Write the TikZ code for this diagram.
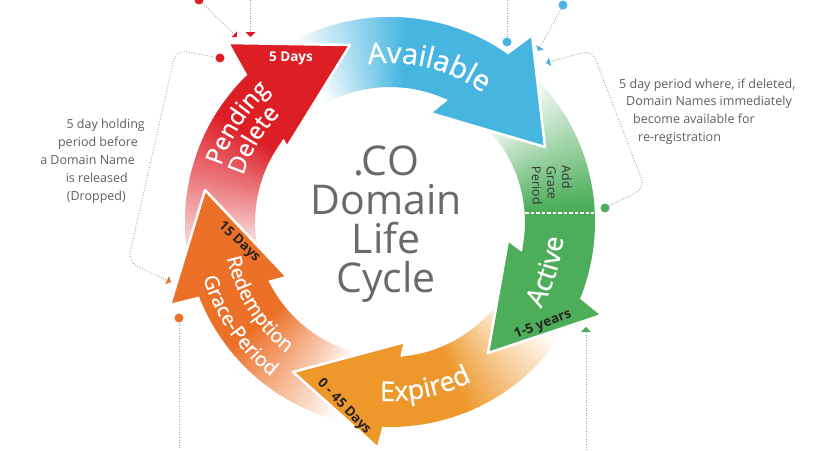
\documentclass[tikz,border=0pt]{standalone}
\usepackage{fontspec}
\setmainfont{Open Sans}
\newfontfamily\labfont[FakeBold=0.7]{Open Sans}
\usetikzlibrary{calc,decorations.text,arrows.meta}
\definecolor{cRed}{RGB}{221,30,37}
\definecolor{cBlue}{RGB}{70,182,225}
\definecolor{cGreen}{RGB}{76,174,90}
\definecolor{cExp}{RGB}{238,152,44}
\definecolor{cRdm}{RGB}{236,112,40}
\definecolor{cTitle}{RGB}{106,106,108}
\definecolor{cSide}{RGB}{95,95,95}
\definecolor{cDark}{RGB}{40,36,30}
\definecolor{cDot}{RGB}{165,165,165}
\newcommand\ringfade[3]{%
  \foreach \k in {1,...,40}{%
    \pgfmathsetmacro\rfA{#2+(#3-#2)*(\k-1)/40}%
    \pgfmathsetmacro\rfB{#2+(#3-#2)*(\k+0.5)/40}%
    \pgfmathtruncatemacro\rfP{round(100*(\k-0.5)/40)}%
    \fill[#1!\rfP!white] ($(C)+(\rfA:135pt)$) arc[start angle=\rfA, end angle=\rfB, radius=135pt]
      -- ($(C)+(\rfB:205pt)$) arc[start angle=\rfB, end angle=\rfA, radius=205pt] -- cycle;
  }}
\tikzset{
  conn/.style={draw=cDot, line width=0.9pt, dash pattern=on 0.9pt off 1.7pt},
  dotmark/.style={circle, inner sep=0pt, minimum size=9pt, fill=#1},
  headline/.style={white, line width=2.5pt, line join=round},
  daylab/.style={font=\bfseries\fontsize{13.5pt}{15pt}\selectfont, text=cDark, inner sep=1pt},
  sidenote/.style={font=\fontsize{12.5pt}{18pt}\selectfont, text=cSide, inner sep=0pt},
}
\begin{document}
\begin{tikzpicture}[x=1pt,y=1pt]
\useasboundingbox (0,0) rectangle (830,450);
\fill[white] (0,0) rectangle (830,450);
\coordinate (C) at (390,228);

% fading tails
\ringfade{cBlue}{118}{85}
\ringfade{cGreen}{45}{5}
\ringfade{cExp}{-35}{-68}
\ringfade{cRdm}{255}{218}
\ringfade{cRed}{195}{148}

% solid bodies with heads
\fill[cRed] ($(C)+(148:205pt)$) arc[start angle=148,end angle=134.5,radius=205pt] -- (228,407) -- (350,405) -- (287,303) -- ($(C)+(142.5:135pt)$) arc[start angle=142.5,end angle=148,radius=135pt] -- cycle;
\draw[headline] ($(C)+(134.5:205pt)$) -- (228,407) -- (350,405) -- (287,303) -- ($(C)+(142.5:135pt)$);

\fill[cBlue] ($(C)+(85:205pt)$) arc[start angle=85,end angle=55.2,radius=205pt] -- (532,415) -- (545,303) -- (430,337) -- ($(C)+(65.2:135pt)$) arc[start angle=65.2,end angle=85,radius=135pt] -- cycle;
\draw[headline] ($(C)+(55.2:205pt)$) -- (532,415) -- (545,303) -- (430,337) -- ($(C)+(65.2:135pt)$);

\fill[cGreen] ($(C)+(5:205pt)$) arc[start angle=5,end angle=-21.6,radius=205pt] -- (602,135) -- (488,97) -- (508,210) -- ($(C)+(-12.2:135pt)$) arc[start angle=-12.2,end angle=5,radius=135pt] -- cycle;
\draw[headline] ($(C)+(-21.6:205pt)$) -- (602,135) -- (488,97) -- (508,210) -- ($(C)+(-12.2:135pt)$);

\fill[cExp] ($(C)+(-68:205pt)$) arc[start angle=-68,end angle=-91.8,radius=205pt] -- (378,2) -- (293,78) -- (405,108) -- ($(C)+(-85.1:135pt)$) arc[start angle=-85.1,end angle=-68,radius=135pt] -- cycle;
\draw[headline] ($(C)+(-91.8:205pt)$) -- (378,2) -- (293,78) -- (405,108) -- ($(C)+(-85.1:135pt)$);

\fill[cRdm] ($(C)+(218:205pt)$) arc[start angle=218,end angle=201.7,radius=205pt] -- (170,145) -- (205,260) -- (287,173) -- ($(C)+(206.3:135pt)$) arc[start angle=206.3,end angle=218,radius=135pt] -- cycle;
\draw[headline] ($(C)+(201.7:205pt)$) -- (170,145) -- (205,260) -- (287,173) -- ($(C)+(206.3:135pt)$);

% dashed divider in green band
\draw[white, line width=1.8pt, dash pattern=on 3.5pt off 2pt] (525,237) -- (594,237);

% curved labels
\path[decorate, decoration={text along path, text align=center, text color=white, text={|\labfont\fontsize{29pt}{29pt}\selectfont|Available}}] ($(C)+(131:159pt)$) arc[start angle=131,end angle=21,radius=159pt];
\path[decorate, decoration={text along path, text align=center, text color=white, text={|\labfont\fontsize{27pt}{27pt}\selectfont|Active}}] ($(C)+(-62.5:174pt)$) arc[start angle=-62.5,end angle=27.5,radius=174pt];
\path[decorate, decoration={text along path, text align=center, text color=white, text={|\labfont\fontsize{27pt}{27pt}\selectfont|Expired}}] ($(C)+(-123:179pt)$) arc[start angle=-123,end angle=-33,radius=179pt];
\path[decorate, decoration={text along path, text align=center, text color=white, text={|\labfont\fontsize{20pt}{20pt}\selectfont|Redemption}}] ($(C)+(167:167pt)$) arc[start angle=167,end angle=257,radius=167pt];
\path[decorate, decoration={text along path, text align=center, text color=white, text={|\labfont\fontsize{20pt}{20pt}\selectfont|Grace-Period}}] ($(C)+(169.5:195pt)$) arc[start angle=169.5,end angle=259.5,radius=195pt];
\path[decorate, decoration={text along path, text align=center, text color=white, text={|\labfont\fontsize{24pt}{24pt}\selectfont|Pending}}] ($(C)+(192:178pt)$) arc[start angle=192,end angle=102,radius=178pt];
\path[decorate, decoration={text along path, text align=center, text color=white, text={|\labfont\fontsize{24pt}{24pt}\selectfont|Delete}}] ($(C)+(194:154pt)$) arc[start angle=194,end angle=104,radius=154pt];

% straight labels
\node[daylab, text=white] (lblFive) at (291,392) {5 Days};
\node[daylab, rotate=-43] (lblFifteen) at (239,208) {15 Days};
\node[daylab, rotate=-46] (lblZero) at (344,43) {0 - 45 Days};
\node[daylab, rotate=21] (lblYears) at (543,125) {1-5 years};
\node[font=\fontsize{12.5pt}{15pt}\selectfont, text=black!80, rotate=-88, align=left, inner sep=0pt] (lblAdd) at (552,265) {Add\\Grace\\Period};

\node[font=\fontsize{41pt}{39pt}\selectfont, text=cTitle, align=center, inner sep=0pt] (title) at (386,225.5) {.CO\\Domain\\Life\\Cycle};

\node[sidenote, align=right, anchor=north east] (noteL) at (145,331) {5 day holding\\period before\rule{7pt}{0pt}\\a Domain Name\rule{10pt}{0pt}\\is released\rule{17pt}{0pt}\\(Dropped)\rule{19pt}{0pt}};
\node[sidenote, align=left, anchor=north west, font=\fontsize{12.5pt}{17.7pt}\selectfont] (noteR) at (619,371.5) {5 day period where, if deleted,\\\rule{7pt}{0pt}Domain Names immediately\\\rule{14pt}{0pt}become available for\\\rule{19pt}{0pt}re-registration};

% connectors
\node[dotmark=cRed] (dA) at (199,450) {};
\coordinate (tA) at (237,413);
\draw[conn, -{Triangle[angle=90:5.5pt, color=cRed]}] (dA) -- (tA);

\coordinate (topB) at (250.5,450);
\coordinate (tB) at (250.5,413);
\draw[conn, -{Triangle[angle=90:7pt, color=cRed]}] (topB) -- (tB);

\node[dotmark=cRed] (dB) at (220,392) {};
\coordinate (tC) at (171,168);
\draw[conn, rounded corners=10pt, -{Triangle[angle=90:6pt, color=cRdm]}] (dB) -- (176,400) -- (128,188) -- (tC);

\node[dotmark=cRdm] (dC) at (179,132) {};
\coordinate (bC) at (179,0);
\draw[conn] (dC) -- (bC);

\coordinate (topD) at (507,450);
\node[dotmark=cBlue] (dD) at (507,408) {};
\draw[conn] (topD) -- (dD);

\node[dotmark=cBlue] (dE) at (563,445) {};
\coordinate (tE) at (538,399);
\draw[conn, -{Triangle[angle=90:6pt, color=cBlue]}] (dE) -- (tE);

\node[dotmark=cGreen] (dG) at (605,242) {};
\coordinate (tF) at (546,387);
\draw[conn, rounded corners=10pt, -{Triangle[angle=90:6pt, color=cBlue]}] (dG) -- (645,262) -- (592,400) -- (tF);

\coordinate (bH) at (586,0);
\coordinate (tH) at (586,123);
\draw[conn, -{Triangle[angle=90:7pt, color=cGreen]}] (bH) -- (tH);
\end{tikzpicture}
\end{document}
